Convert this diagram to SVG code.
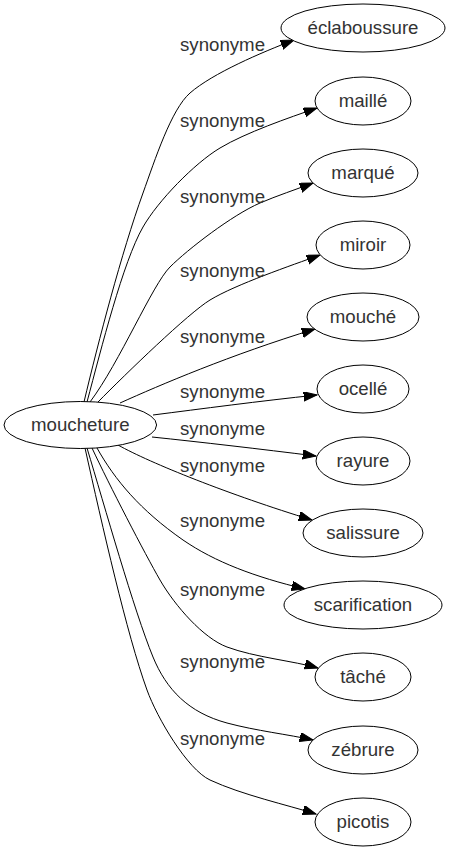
<svg xmlns="http://www.w3.org/2000/svg" width="451" height="851" viewBox="0 0 451 851">
<defs>
<marker id="arr" markerUnits="userSpaceOnUse" markerWidth="16" markerHeight="12" refX="13.3" refY="4.67" orient="auto">
<path d="M0,0 L13.3,4.67 L0,9.33 z" fill="#000" stroke="#000" stroke-width="1"/>
</marker>
<style>
.n ellipse{fill:#fff;stroke:#000;stroke-width:1}
text{font-family:"Liberation Sans",Arial,sans-serif;font-size:18.67px;fill:#333;text-anchor:middle}
#edges path{fill:none;stroke:#000;stroke-width:1;marker-end:url(#arr)}
</style>
</defs>
<rect width="451" height="851" fill="#fff"/>
<g id="edges">
<path d="M84,402 C98.5,341 121.4,253 143,193 C154.9,160 171.2,109.4 190,93 C212.6,73.3 261.3,52.5 294,40"/>
<path d="M87,402 C101.3,348.6 123,261.7 143,227 C157.9,201 194.3,163.4 220,148 C245.7,132.6 288.7,117.8 317,108"/>
<path d="M90,402 C120,362 152.3,284.7 170,267 C187.7,249.3 232.4,214.9 260,203 C276.5,195.9 296.2,189.4 313,183"/>
<path d="M98,402 C126,373.6 188.6,313 210,300 C235.6,284.4 291.8,265.3 320,255"/>
<path d="M120,403 C160,385 230,355 315,329"/>
<path d="M153,415 C200,409 260,401 317,395"/>
<path d="M152,437 C200,442 260,449 316,456"/>
<path d="M118,445 C150,463 230,495 312,520"/>
<path d="M97,448 C115,480 140,510 183,540 C215,562 255,577 305,589"/>
<path d="M92,448 C108.8,484 145,554 160,580 C175,606 203.5,638.3 227,647 C255,657.4 294,661 318,668"/>
<path d="M87,448 C104.4,505.4 134,610.75 153,657 C166.3,689.4 188.4,712.6 227,723 C256,730.8 288.7,734.5 313,740"/>
<path d="M85,448 C102.4,526 126.6,633.6 147,690 C157.2,718.2 187.4,769.4 210,780 C241.7,794.8 287.5,805 316,814"/>
</g>
<g id="edge-labels">
<text x="222.5" y="51">synonyme</text>
<text x="222.5" y="127">synonyme</text>
<text x="222.5" y="203">synonyme</text>
<text x="222.5" y="277">synonyme</text>
<text x="222.5" y="343">synonyme</text>
<text x="222.5" y="398">synonyme</text>
<text x="222.5" y="435">synonyme</text>
<text x="222.5" y="472">synonyme</text>
<text x="222.5" y="527">synonyme</text>
<text x="222.5" y="596">synonyme</text>
<text x="222.5" y="668">synonyme</text>
<text x="222.5" y="745">synonyme</text>
</g>
<g id="moucheture" class="n"><ellipse cx="80.3" cy="425" rx="76.3" ry="23.5"/><text x="80.3" y="431">moucheture</text></g>
<g id="eclaboussure" class="n"><ellipse cx="363" cy="28" rx="82" ry="24"/><text x="363" y="34">éclaboussure</text></g>
<g id="maille" class="n"><ellipse cx="363" cy="101" rx="48" ry="24"/><text x="363" y="107">maillé</text></g>
<g id="marque" class="n"><ellipse cx="363" cy="173" rx="55" ry="24"/><text x="363" y="179">marqué</text></g>
<g id="miroir" class="n"><ellipse cx="363" cy="245" rx="47" ry="24"/><text x="363" y="251">miroir</text></g>
<g id="mouche" class="n"><ellipse cx="363" cy="317" rx="56" ry="24"/><text x="363" y="323">mouché</text></g>
<g id="ocelle" class="n"><ellipse cx="363" cy="389" rx="46" ry="24"/><text x="363" y="395">ocellé</text></g>
<g id="rayure" class="n"><ellipse cx="363" cy="461" rx="47" ry="24"/><text x="363" y="467">rayure</text></g>
<g id="salissure" class="n"><ellipse cx="363" cy="533" rx="60" ry="24"/><text x="363" y="539">salissure</text></g>
<g id="scarification" class="n"><ellipse cx="363" cy="605" rx="79" ry="24"/><text x="363" y="611">scarification</text></g>
<g id="tache" class="n"><ellipse cx="363" cy="677" rx="48" ry="24"/><text x="363" y="683">tâché</text></g>
<g id="zebrure" class="n"><ellipse cx="363" cy="750" rx="55" ry="24"/><text x="363" y="756">zébrure</text></g>
<g id="picotis" class="n"><ellipse cx="363" cy="822" rx="48" ry="24"/><text x="363" y="828">picotis</text></g>
</svg>
